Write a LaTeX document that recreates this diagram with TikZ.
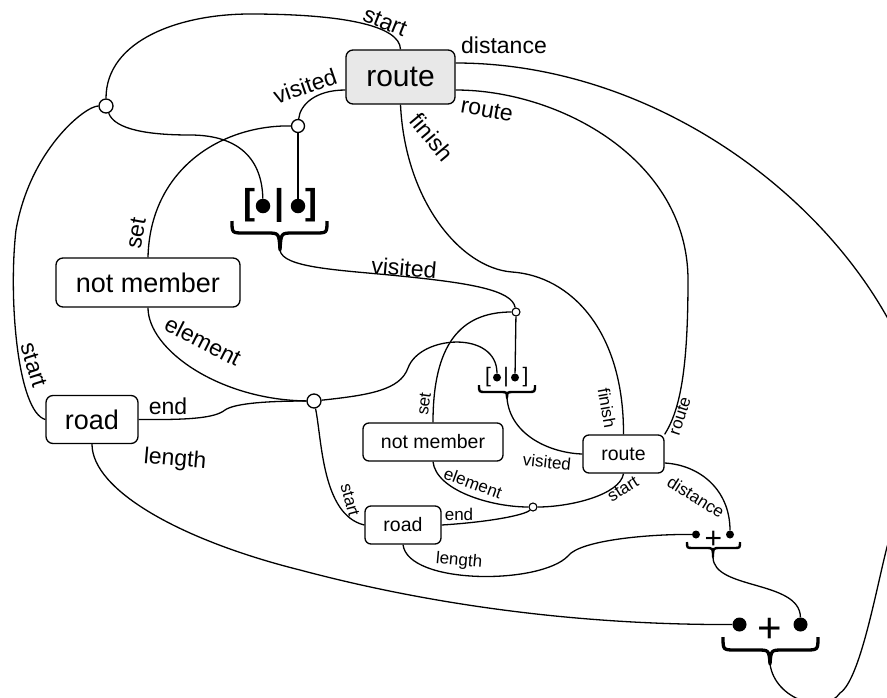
\documentclass[tikz,border=0pt]{standalone}
\usepackage{fontspec}
\setmainfont{Liberation Sans}
\usetikzlibrary{calc}
\begin{document}
\begin{tikzpicture}[x=1pt,y=-1pt,
  edge/.style={line width=1.3pt},
  nbox/.style={draw, line width=1.3pt, rounded corners=7pt, inner sep=0pt, align=center},
  junc/.style={circle, draw, line width=1.3pt, fill=white, inner sep=0pt},
  dot/.style={circle, fill=black, inner sep=0pt},
  biglbl/.style={inner sep=0pt, font=\fontsize{23}{27}\selectfont},
  smalllbl/.style={inner sep=0pt, font=\fontsize{17}{20}\selectfont},
  bigtxt/.style={font=\fontsize{27}{32}\selectfont},
  smalltxt/.style={font=\fontsize{19.5}{23}\selectfont},
  glyph/.style={inner sep=0pt, anchor=base},
  bracebig/.style={line width=3.3pt, line join=round},
  bracesmall/.style={line width=2.4pt, line join=round}
]
\useasboundingbox (0,0) rectangle (887,697);
\clip (0,0) rectangle (887,697);

% boxes
\node[nbox, fill=black!9, minimum width=109pt, minimum height=54pt, font=\fontsize{30}{36}\selectfont] (R) at (400.5,77) {route};
\node[nbox, bigtxt, minimum width=184pt, minimum height=49pt] (NM) at (148,282.5) {not member};
\node[nbox, bigtxt, minimum width=92pt, minimum height=48pt] (RD) at (92,419.5) {road};
\node[nbox, smalltxt, rounded corners=6pt, minimum width=140pt, minimum height=38pt] (nm) at (433,442) {not member};
\node[nbox, smalltxt, rounded corners=6pt, minimum width=81pt, minimum height=38pt] (rt) at (623.5,454) {route};
\node[nbox, smalltxt, rounded corners=6pt, minimum width=76pt, minimum height=38pt] (rd) at (403,525) {road};

% junctions
\node[junc, minimum size=14pt] (J1) at (106,106) {};
\node[junc, minimum size=13pt] (J2) at (298,126) {};
\node[junc, minimum size=14pt] (J3) at (314,401) {};
\node[junc, minimum size=8pt, line width=1.1pt] (J4) at (516,312) {};
\node[junc, minimum size=8pt, line width=1.1pt] (J5) at (533,507) {};

% big list
\node[glyph, font=\fontsize{36}{40}\selectfont\bfseries] (BLa) at (249,214.4) {[};
\node[glyph, font=\fontsize{36}{40}\selectfont\bfseries] (BLb) at (280,214.4) {|};
\node[glyph, font=\fontsize{36}{40}\selectfont\bfseries] (BLc) at (311.5,214.4) {]};
\node[dot, minimum size=14.5pt] (BL1) at (263,206) {};
\node[dot, minimum size=14.5pt] (BL2) at (298,206) {};
\draw[bracebig] (232,221) .. controls (232,233) .. (244,233) -- (267,233) .. controls (279,233) .. (280,250) .. controls (281,233) .. (293,233) -- (315,233) .. controls (327,233) .. (327,221);
\coordinate (BLtip) at (280,250);

% small list
\node[glyph, font=\fontsize{21}{24}\selectfont] (SLa) at (488,382.6) {[};
\node[glyph, font=\fontsize{21}{24}\selectfont] (SLb) at (506,382.6) {|};
\node[glyph, font=\fontsize{21}{24}\selectfont] (SLc) at (525.5,382.6) {]};
\node[dot, minimum size=8pt] (SL1) at (497,377.5) {};
\node[dot, minimum size=8pt] (SL2) at (515,377.5) {};
\draw[bracesmall] (479,385) .. controls (479,392) .. (486,392) -- (500,392) .. controls (507,392) .. (507,398) .. controls (507,392) .. (514,392) -- (528,392) .. controls (535,392) .. (535,385);
\coordinate (SLtip) at (507,398);

% small plus
\node[glyph, font=\fontsize{30}{34}\selectfont] (SPp) at (713.5,548) {+};
\node[dot, minimum size=8pt] (SP1) at (696,534.5) {};
\node[dot, minimum size=8pt] (SP2) at (730,534.5) {};
\draw[bracesmall] (687,542) .. controls (687,548) .. (693,548) -- (706,548) .. controls (713,548) .. (713,557) .. controls (713,548) .. (720,548) -- (734,548) .. controls (740,548) .. (740,542);
\coordinate (SPtip) at (713,557);

% big plus
\node[glyph, font=\fontsize{42}{48}\selectfont] (BPp) at (770,642.8) {+};
\node[dot, minimum size=14pt] (BP1) at (739.5,624.5) {};
\node[dot, minimum size=14pt] (BP2) at (800.5,624.5) {};
\draw[bracebig] (723,637) .. controls (723,650) .. (736,650) -- (757,650) .. controls (769,650) .. (770,664) .. controls (771,650) .. (783,650) -- (805,650) .. controls (818,650) .. (818,637);
\coordinate (BPtip) at (770,664);

% edges
\draw[edge] (J1) .. controls (106,40) and (180,14) .. (250,14) .. controls (340,14) and (400,25) .. (R.north);
\draw[edge] (J1) .. controls (85,106) and (30,150) .. (16,230) .. controls (8,300) and (18,412) .. (RD.west);
\draw[edge] (J1) .. controls (115,130) and (150,135) .. (190,135) .. controls (240,135) and (262,160) .. (BL1);
\draw[edge] ($(R.west)+(0,13)$) .. controls (315,90) and (300,105) .. (J2);
\draw[edge] (J2) -- (BL2);
\draw[edge] (J2) .. controls (220,125) and (150,170) .. (NM.north);
\draw[edge] (NM.south) .. controls (148,350) and (220,400) .. (J3);
\draw[edge] (RD.east) .. controls (190,420) and (215,418) .. (225,410) .. controls (235,403) and (270,401) .. (J3);
\draw[edge] (RD.south) .. controls (92,490) and (180,540) .. (300,570) .. controls (450,610) and (600,625) .. (BP1);
\draw[edge] (BLtip) .. controls (282,268) and (340,270) .. (400,276) .. controls (470,283) and (512,290) .. (J4);
\draw[edge] (J4) -- (SL2);
\draw[edge] (J4) .. controls (460,312) and (433,345) .. (nm.north);
\draw[edge] (J3) .. controls (370,395) and (400,390) .. (408,368) .. controls (420,335) and (497,330) .. (SL1);
\draw[edge] (J3) .. controls (322,440) and (322,515) .. (rd.west);
\draw[edge] (SLtip) .. controls (510,435) and (550,453) .. (rt.west);
\draw[edge] (nm.south) .. controls (436,490) and (490,507) .. (J5);
\draw[edge] (rd.east) .. controls (490,522) and (525,515) .. (J5);
\draw[edge] (rt.south) .. controls (620,495) and (570,507) .. (J5);
\draw[edge] (R.south) .. controls (405,200) and (460,268) .. (512,272) .. controls (570,276) and (624,330) .. (rt.north);
\draw[edge] ($(R.east)+(0,13)$) .. controls (560,90) and (688,160) .. (688,280) .. controls (688,370) and (680,410) .. (rt.north east);
\draw[edge] ($(R.east)+(0,-14)$) .. controls (640,63) and (810,180) .. (887,317) .. controls (925,390) and (905,490) .. (887,547) .. controls (876,590) and (860,680) .. (840,693) .. controls (825,715) and (775,700) .. (BPtip);
\draw[edge] ($(rt.east)+(0,9)$) .. controls (700,465) and (730,490) .. (SP2);
\draw[edge] (rd.south) .. controls (408,585) and (540,585) .. (568,556) .. controls (580,540) and (650,534) .. (SP1);
\draw[edge] (SPtip) .. controls (713,590) and (800,580) .. (BP2);

% big labels
\node[biglbl, rotate=-22] (l1) at (385,22) {start};
\node[biglbl] (l2) at (504,45) {distance};
\node[biglbl, rotate=19] (l3) at (305,86) {visited};
\node[biglbl, rotate=-10] (l4) at (487,110) {route};
\node[biglbl, rotate=-50] (l5) at (432,137) {finish};
\node[biglbl, rotate=80] (l6) at (136,233) {set};
\node[biglbl, rotate=-27] (l7) at (203,341) {element};
\node[biglbl, rotate=-72] (l8) at (34,365) {start};
\node[biglbl] (l9) at (168,406) {end};
\node[biglbl, rotate=-5] (l10) at (175,460) {length};
\node[biglbl, rotate=-5] (l11) at (404,268) {visited};

% small labels
\node[smalllbl, rotate=82] (s1) at (424,404) {set};
\node[smalllbl, rotate=-80] (s2) at (607,408) {finish};
\node[smalllbl, rotate=72] (s3) at (680,416) {route};
\node[smalllbl, rotate=-6] (s4) at (547,462) {visited};
\node[smalllbl, rotate=-20] (s5) at (473,483) {element};
\node[smalllbl] (s6) at (459,514) {end};
\node[smalllbl, rotate=32] (s7) at (623,489) {start};
\node[smalllbl, rotate=-32] (s8) at (696,497) {distance};
\node[smalllbl, rotate=-75] (s9) at (350,500) {start};
\node[smalllbl, rotate=-5] (s10) at (459,561) {length};
\end{tikzpicture}
\end{document}
